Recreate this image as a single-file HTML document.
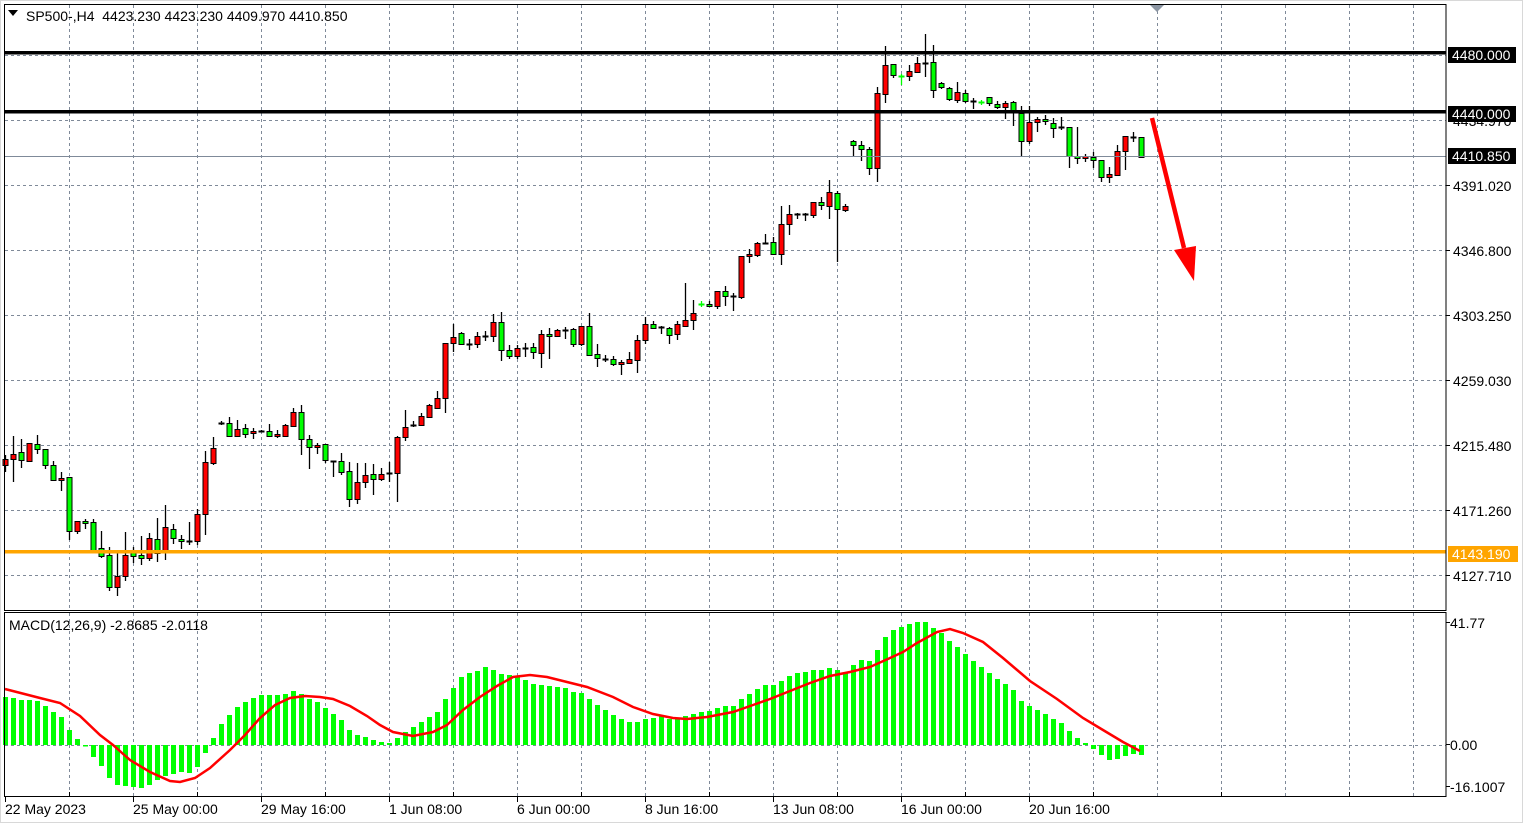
<!DOCTYPE html>
<html><head><meta charset="utf-8"><style>
html,body{margin:0;padding:0;background:#fff;}
svg{display:block;font-family:"Liberation Sans",Tahoma,sans-serif;font-size:14px;}
</style></head><body>
<svg id="s" width="1528" height="825" xmlns="http://www.w3.org/2000/svg">
<rect x="0" y="0" width="1528" height="825" fill="#fff"/>
<rect x="0.5" y="0.5" width="1522" height="822" fill="none" stroke="#d8d8d8"/>
<g id="grid" stroke="#7f8a99" stroke-dasharray="3,3" stroke-width="1"></g>
<g id="hist"></g>
<g id="cand"></g>
<line x1="5" y1="156.5" x2="1446" y2="156.5" stroke="#7f8a99"/>
<rect x="5" y="51" width="1441" height="3.5" fill="#000"/>
<rect x="5" y="110" width="1441" height="3.5" fill="#000"/>
<rect x="5" y="550" width="1441" height="3.5" fill="#ffa500"/>
<polyline id="sig" fill="none" stroke="#f00" stroke-width="2.5"/>
<rect x="4.5" y="4.5" width="1441.5" height="606" fill="none" stroke="#000"/>
<rect x="4.5" y="612.5" width="1441.5" height="184" fill="none" stroke="#000"/>
<line x1="1152" y1="118" x2="1184" y2="248" stroke="#f00" stroke-width="4.5"/>
<polygon points="1174,250 1196,246 1194,281" fill="#f00"/>
<polygon points="1150,5 1164,5 1157,12" fill="#8c96a3"/>
<polygon points="8,10 18,10 13,16" fill="#000"/>
<text x="26" y="21" fill="#000">SP500-,H4&#160; 4423.230 4423.230 4409.970 4410.850</text>
<text x="9" y="630" fill="#000">MACD(12,26,9) -2.8685 -2.0118</text>
<g id="axis" fill="#000"></g>
</svg>
<script>
var s=document.getElementById('s'),NS='http://www.w3.org/2000/svg';
function el(p,t,a,txt){var e=document.createElementNS(NS,t);for(var k in a)e.setAttribute(k,a[k]);if(txt!==undefined)e.textContent=txt;p.appendChild(e);return e;}
var g=document.getElementById('grid');
for(var x=69.5;x<1446;x+=64){el(g,'line',{x1:x,y1:5,x2:x,y2:610});el(g,'line',{x1:x,y1:613,x2:x,y2:796});}
[55.5,120.5,185.5,250.5,315.5,380.5,445.5,510.5,575.5].forEach(function(y){el(g,'line',{x1:5,y1:y,x2:1446,y2:y});});
el(g,'line',{x1:5,y1:745.5,x2:1446,y2:745.5});
var D="R,459,465,455,472;R,454,459,436,482;G,452,460,439,468;R,443,461,443,462;G,444,449,435,454;G,449,465,449,469;G,465,480,461,480;R,478,480,472,491;G,477,531,477,540;R,521,531,521,534;G,521,523,519,529;G,522,550,519,550;G,548,556,531,558;G,555,587,547,591;R,576,587,553,596;R,555,576,532,581;G,552,556,547,563;G,555,558,536,565;R,538,558,533,561;G,539,553,518,562;R,527,550,505,560;G,529,538,524,544;G,539,541,535,549;D,541,541,522,545;R,514,541,509,545;R,462,514,451,535;R,448,463,437,465;D,423,423,421,425;G,423,436,417,436;R,429,436,420,437;G,428,434,424,438;R,431,433,428,439;D,431,431,430,432;G,431,436,424,437;R,434,436,430,438;R,425,436,424,437;R,412,426,408,427;G,412,439,405,455;G,439,447,435,469;R,445,447,443,454;G,444,460,444,463;D,461,461,461,477;G,461,472,453,475;G,471,499,462,507;R,482,499,463,504;R,475,482,463,488;G,474,479,464,495;R,474,479,468,481;D,473,473,462,482;R,437,473,436,502;R,427,437,410,441;D,425,425,421,427;R,416,425,413,426;R,405,417,404,417;R,398,408,391,407;R,343,398,343,413;R,337,343,324,352;"+
"G,333,344,332,344;D,344,344,339,350;R,336,344,332,348;D,336,336,331,341;R,322,336,314,342;G,322,350,312,361;G,350,356,345,359;R,348,356,345,359;D,348,348,343,357;G,347,352,343,359;R,334,353,330,368;G,334,336,328,359;R,330,336,329,337;D,330,330,327,339;G,329,344,328,347;R,326,344,326,346;G,326,355,313,356;G,354,358,344,367;D,359,359,355,362;G,359,364,356,366;R,362,364,360,375;R,359,363,352,364;R,340,360,335,373;R,324,340,317,344;G,324,328,321,329;D,327,327,326,334;G,328,335,327,344;R,324,334,321,340;R,320,326,283,327;R,313,320,300,330;C,304,304,301,307;G,304,306,301,307;R,291,306,291,309;G,291,296,286,306;D,296,296,293,311;R,256,297,256,299;R,254,256,249,263;R,243,255,242,257;D,243,243,234,244;G,242,254,237,255;R,224,254,206,265;R,214,224,205,235;D,214,214,213,219;D,214,214,213,221;R,202,215,202,218;G,202,205,197,210;R,192,206,180,219;G,193,209,191,262;R,206,210,204,212;"+
"G,141,145,140,156;G,145,149,141,161;G,149,168,147,175;R,93,168,87,182;R,65,94,46,103;G,64,75,64,78;C,76,76,74,85;R,71,76,65,81;R,63,72,57,73;D,63,63,34,77;G,62,90,45,98;G,83,87,82,89;G,88,99,87,101;R,92,100,82,103;G,93,101,90,103;D,101,101,98,109;C,102,102,100,105;G,97,103,97,106;G,104,107,101,109;R,103,107,101,119;G,102,110,101,126;G,113,141,106,157;R,122,141,106,144;R,119,122,117,132;G,119,121,115,125;G,123,128,118,138;D,127,127,117,130;G,127,156,127,168;G,156,158,127,164;R,156,158,154,162;G,157,160,152,168;G,160,177,160,182;R,174,177,167,183;R,151,175,145,175;R,136,151,136,170;D,137,137,132,142;G,137,157,137,158";
var c=document.getElementById('cand');
D.split(';').forEach(function(r,i){var a=r.split(','),t=a[0],tp=+a[1],bt=+a[2],hi=+a[3],lo=+a[4];var cx=5.5+8*i;
 var col=t=='C'?'#00ff00':'#000';
 el(c,'line',{x1:cx,y1:hi,x2:cx,y2:lo,stroke:col,'stroke-width':1.3});
 if(t=='D'||t=='C'){el(c,'line',{x1:cx-3,y1:tp+0.5,x2:cx+3,y2:tp+0.5,stroke:col,'stroke-width':2});}
 else{if(bt-tp<2)bt=tp+2;el(c,'rect',{x:cx-2.5,y:tp+0.5,width:5,height:bt-tp,fill:t=='R'?'#ff0000':'#00ff00',stroke:'#000','stroke-width':1});}
});
var H=[697,698,700,700,701,706,712,717,730,739,746.5,757,766,778,785,786,787,788,785,780,776,774,772,773,767,753,738,724,715,707,702,698,695,695,695,694,691,694,699,702,708,714,720,730,735,737,740,742,743,738,732,727,722,717,712,699,688,677,673,671,667,670,674,675,677,680,684,685,686,687,688,692,693,699,705,710,715,719,722,722,719,718,716,719,718,716,714,712,711,708,706,706,699,694,689,685,685,681,676,673,672,670,670,668,670,673,665,660,661,650,637,630,627,624,622,622,628,633,641,647,654,661,667,673,679,684,690,701,706,710,714,719,723,731,738,743,749,755,760,759,756,754,755];
var h=document.getElementById('hist');
H.forEach(function(y,i){var cx=5.5+8*i,z=745;var t=Math.min(y,z),b=Math.max(y,z);if(b-t<1)b=t+1;el(h,'rect',{x:cx-2.5,y:t,width:5,height:b-t,fill:'#00ff00'});});
var P=[[5,689],[40,698],[60,703],[80,716],[100,735],[113,745],[130,760],[150,772],[170,781],[180,782],[195,778],[210,768],[230,750],[245,735],[260,718],[275,705],[290,698],[305,696],[320,697],[333,699],[350,706],[367,716],[380,725],[393,732],[413,736],[433,732],[447,725],[463,710],[480,697],[497,686],[513,677],[530,675],[547,677],[567,682],[587,687],[613,697],[633,707],[653,714],[673,718],[687,719],[707,717],[733,712],[753,705],[770,699],[790,691],[810,683],[830,676],[850,672],[870,667],[890,658],[903,652],[917,643],[937,632],[950,629],[963,633],[983,642],[1003,658],[1030,681],[1057,699],[1083,718],[1103,730],[1123,742],[1140,751]];
document.getElementById('sig').setAttribute('points',P.map(function(p){return p.join(',')}).join(' '));
var ax=document.getElementById('axis');
[[186,'4391.020'],[251,'4346.800'],[316,'4303.250'],[381,'4259.030'],[446,'4215.480'],[511,'4171.260'],[576,'4127.710'],[623,'41.77'],[745,'0.00'],[787,'-16.1007']].forEach(function(a){
 el(ax,'line',{x1:1446,y1:a[0]-0.5,x2:1450,y2:a[0]-0.5,stroke:'#000'});
 el(ax,'text',{x:a[1].length<8||a[1][0]=='-'?1450:1453,y:a[0]+5},a[1]);});
el(ax,'text',{x:1453,y:126},'4434.970');
[[55,'4480.000','#000','#fff'],[114,'4440.000','#000','#fff'],[156,'4410.850','#000','#fff'],[554,'4143.190','#ffa500','#fff']].forEach(function(a){
 el(ax,'rect',{x:1448,y:a[0]-8,width:a[2]=='#ffa500'?70:68,height:16,fill:a[2]});
 el(ax,'text',{x:1452,y:a[0]+5,fill:a[3]},a[1]);});
[[5,'22 May 2023'],[133,'25 May 00:00'],[261,'29 May 16:00'],[389,'1 Jun 08:00'],[517,'6 Jun 00:00'],[645,'8 Jun 16:00'],[773,'13 Jun 08:00'],[901,'16 Jun 00:00'],[1029,'20 Jun 16:00']].forEach(function(a){
 el(ax,'line',{x1:a[0]+0.5,y1:796,x2:a[0]+0.5,y2:802,stroke:'#000'});
 el(ax,'text',{x:a[0],y:814},a[1]);});
for(var x=69.5;x<1446;x+=128){el(ax,'line',{x1:x,y1:792,x2:x,y2:797,stroke:'#000'});}
</script>
</body></html>
